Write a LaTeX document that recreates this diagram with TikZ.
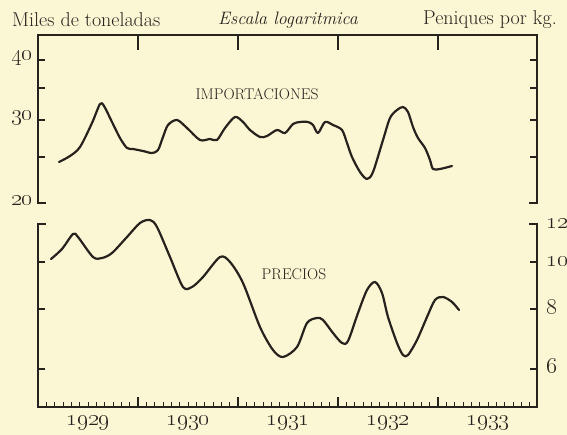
\RequirePackage{fix-cm}
\documentclass[tikz,border=0pt]{standalone}
\usetikzlibrary{calc}
\definecolor{paper}{RGB}{251,247,212}
\definecolor{ink}{RGB}{38,34,30}
\tikzset{
  axisline/.style={ink, line width=1.4pt, line cap=rect},
  tickline/.style={ink, line width=1.2pt},
  curve/.style={ink, line width=2.2pt, line join=round, line cap=round},
  lbl/.style={ink, inner sep=0pt, font=\fontsize{20}{22}\selectfont},
  numlbl/.style={ink, inner sep=0pt, font=\fontsize{23}{25}\selectfont},
  serieslbl/.style={ink, inner sep=0pt, font=\fontsize{15.5}{17}\selectfont},
}
\begin{document}
\begin{tikzpicture}[x=1pt,y=-1pt]
\fill[paper] (0,0) rectangle (567,435);
\useasboundingbox (0,0) rectangle (567,435);

% titles
\node[lbl, anchor=west] (tl) at (12,20) {Miles de toneladas};
\node[lbl, anchor=center, font=\fontsize{18}{20}\selectfont\itshape] (tc) at (288,20) {Escala logaritmica};
\node[lbl, anchor=east] (tr) at (557,20) {Peniques por kg.};

% frame
\draw[axisline] (38,203) -- (38,35) -- (537,35) -- (537,203);
\draw[axisline] (38,203) -- (45,203);
\draw[axisline] (537,203) -- (530,203);
\draw[axisline] (45,224) -- (38,224) -- (38,407) -- (537,407) -- (537,224) -- (530,224);

% top ticks
\foreach \xx in {138,238,338,438} \draw[tickline] (\xx,35) -- (\xx,50);

% upper scale ticks (20..40)
\foreach \yy in {60,88,120,157} {
  \draw[tickline] (38,\yy) -- (45,\yy);
  \draw[tickline] (537,\yy) -- (530,\yy);
}
% lower scale ticks (6..12)
\foreach \yy in {262,309,369} {
  \draw[tickline] (38,\yy) -- (45,\yy);
  \draw[tickline] (537,\yy) -- (530,\yy);
}

% bottom month ticks
\foreach \k in {1,...,59} {
  \pgfmathsetmacro{\xx}{38+\k*100/12}
  \pgfmathtruncatemacro{\m}{mod(\k,12)}
  \ifnum\m=0
    \draw[tickline] (\xx,407) -- (\xx,397);
  \else
    \draw[tickline, line width=0.9pt] (\xx,407) -- (\xx,402);
  \fi
}

% left labels
\node[numlbl, anchor=east] (l40) at (33,58) {\oldstylenums{40}};
\node[numlbl, anchor=east] (l30) at (33,118) {\oldstylenums{30}};
\node[numlbl, anchor=east] (l20) at (33,201) {\oldstylenums{20}};
% right labels
\node[numlbl, anchor=west] (r12) at (546,224) {\oldstylenums{12}};
\node[numlbl, anchor=west] (r10) at (546,262) {\oldstylenums{10}};
\node[numlbl, anchor=west] (r8) at (546,307) {\oldstylenums{8}};
\node[numlbl, anchor=west] (r6) at (546,366) {\oldstylenums{6}};

% years
\node[numlbl] (y29) at (88,423) {\oldstylenums{1929}};
\node[numlbl] (y30) at (188,423) {\oldstylenums{1930}};
\node[numlbl] (y31) at (288,423) {\oldstylenums{1931}};
\node[numlbl] (y32) at (388,423) {\oldstylenums{1932}};
\node[numlbl] (y33) at (488,423) {\oldstylenums{1933}};

% series labels
\node[serieslbl] (imp) at (257,94) {IMPORTACIONES};
\node[serieslbl] (pre) at (294,274) {PRECIOS};

% imports
\draw[curve] plot[smooth, tension=0.5] coordinates {
 (59,162) (70,156) (80,147) (92,123) (100,104) (104,106) (112,122) (120,138)
 (127,148) (133,149) (143,151) (152,153) (158,150) (163,137) (168,125) (177,120)
 (187,128) (200,140) (210,139) (217,140) (225,128) (235,117) (243,122) (250,130)
 (260,137) (267,136) (277,130) (285,133) (293,124) (300,122) (308,122) (313,125)
 (318,133) (325,122) (333,125) (342,130) (347,143) (352,157) (360,172) (367,179)
 (373,172) (383,140) (390,118) (397,110) (403,107) (408,112) (413,127) (418,138)
 (425,148) (430,160) (433,169) (440,169) (452,166)};

% prices
\draw[curve] plot[smooth, tension=0.5] coordinates {
 (51,259) (62,249) (73,234) (78,237) (93,257) (102,258) (112,253) (127,237)
 (140,223) (150,220) (157,227) (170,257) (183,287) (192,287) (203,277) (220,257)
 (230,262) (243,283) (260,327) (273,350) (283,357) (297,347) (307,323) (317,318)
 (323,320) (333,333) (342,343) (348,341) (358,313) (367,290) (375,282) (382,293)
 (388,317) (397,343) (403,355) (408,355) (417,340) (427,317) (435,300) (443,297)
 (452,302) (459,310)};
\end{tikzpicture}
\end{document}
